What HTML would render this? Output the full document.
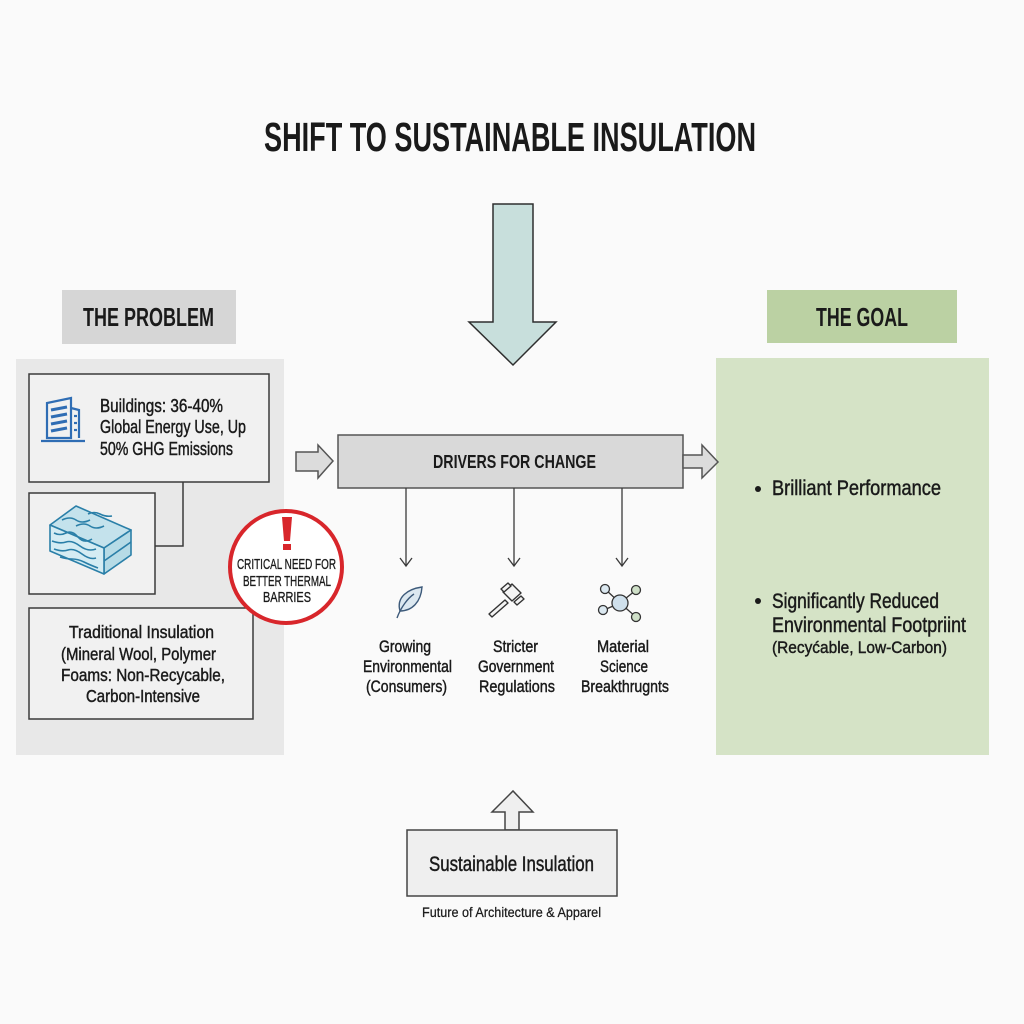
<!DOCTYPE html>
<html><head><meta charset="utf-8"><style>
html,body{margin:0;padding:0;background:#fafafa;}
svg{display:block;}
text{font-family:"Liberation Sans Narrow","Liberation Sans",sans-serif;fill:#1a1a1a;}
.b{font-weight:bold;}
.m{stroke:#1a1a1a;stroke-width:0.45;}
</style></head><body>
<svg width="1024" height="1024" viewBox="0 0 1024 1024" xmlns="http://www.w3.org/2000/svg">
<rect x="0" y="0" width="1024" height="1024" fill="#fafafa"/>

<!-- Title -->
<text x="264" y="151" font-size="41" class="b" textLength="492" lengthAdjust="spacingAndGlyphs">SHIFT TO SUSTAINABLE INSULATION</text>

<!-- Down arrow -->
<polygon points="493,204 533,204 533,322 556,322 513,365 469,322 493,322" fill="#c8dfdc" stroke="#2e2e2e" stroke-width="1.5" stroke-linejoin="miter"/>

<!-- THE PROBLEM -->
<rect x="62" y="290" width="174" height="54" fill="#d6d6d6"/>
<text x="83" y="326" font-size="26" class="b" textLength="131" lengthAdjust="spacingAndGlyphs">THE PROBLEM</text>

<rect x="16" y="359" width="268" height="396" fill="#e8e8e8"/>

<!-- box1 -->
<rect x="29" y="374" width="240" height="108" fill="#f1f1f1" stroke="#3a3a3a" stroke-width="1.5"/>
<!-- building icon -->
<g fill="none" stroke="#2f6db4" stroke-width="2.2">
  <line x1="41" y1="441" x2="85" y2="441"/>
  <polygon points="47,438 47,403 71,398 71,438"/>
  <polyline points="71,408 79,410 79,438"/>
  <line x1="51" y1="410" x2="67" y2="407" stroke-width="3"/>
  <line x1="51" y1="417" x2="67" y2="414" stroke-width="3"/>
  <line x1="51" y1="424" x2="67" y2="421" stroke-width="3"/>
  <line x1="51" y1="431" x2="67" y2="428" stroke-width="3"/>
  <line x1="74" y1="416" x2="77" y2="416"/>
  <line x1="74" y1="423" x2="77" y2="423"/>
  <line x1="74" y1="430" x2="77" y2="430"/>
</g>
<g class="m">
<text x="100" y="412" font-size="18" textLength="123" lengthAdjust="spacingAndGlyphs">Buildings: 36-40%</text>
<text x="100" y="433" font-size="18" textLength="146" lengthAdjust="spacingAndGlyphs">Global Energy Use, Up</text>
<text x="100" y="455" font-size="18" textLength="133" lengthAdjust="spacingAndGlyphs">50% GHG Emissions</text>
</g>

<!-- connector -->
<polyline points="183,482 183,546 155,546" fill="none" stroke="#3a3a3a" stroke-width="1.5"/>

<!-- box2 -->
<rect x="29" y="493" width="126" height="101" fill="#f1f1f1" stroke="#3a3a3a" stroke-width="1.5"/>
<g stroke="#2a7fa8" stroke-width="1.6" stroke-linejoin="round">
  <polygon points="50,525 76,506 131,530 104,548" fill="#c4e2ec"/>
  <polygon points="104,548 131,530 131,555 104,574" fill="#b6dbe6"/>
  <polygon points="50,525 104,548 104,574 50,551" fill="#d4ecf3"/>
  <line x1="104" y1="561" x2="131" y2="542"/>
  <path d="M62,520 q8,-4 14,0 t14,0" fill="none"/>
  <path d="M76,526 q8,-4 14,0 t14,0" fill="none"/>
  <path d="M88,514 q6,-3 12,0 t12,2" fill="none"/>
  <path d="M54,533 q6,3 12,0 t12,4 t14,2" fill="none"/>
  <path d="M52,541 q8,3 14,1 t14,4 t16,3" fill="none"/>
  <path d="M54,549 q8,3 14,1 t14,4 t14,4" fill="none"/>
  <path d="M60,557 q6,2 12,2 t12,3 t14,6" fill="none"/>
</g>

<!-- box3 -->
<rect x="29" y="608" width="224" height="111" fill="#f1f1f1" stroke="#3a3a3a" stroke-width="1.5"/>
<g class="m">
<text x="69" y="638" font-size="17.5" textLength="145" lengthAdjust="spacingAndGlyphs">Traditional Insulation</text>
<text x="61" y="660" font-size="17.5" textLength="155" lengthAdjust="spacingAndGlyphs">(Mineral Wool, Polymer</text>
<text x="61" y="681" font-size="17.5" textLength="164" lengthAdjust="spacingAndGlyphs">Foams: Non-Recycable,</text>
<text x="86" y="702" font-size="17.5" textLength="114" lengthAdjust="spacingAndGlyphs">Carbon-Intensive</text>
</g>

<!-- Red circle -->
<circle cx="286" cy="567" r="56" fill="#ffffff" stroke="#d8262b" stroke-width="4"/>
<polygon points="282,517 292,517 290,541 284,541" fill="#d8262b"/>
<rect x="283" y="544" width="8" height="6" fill="#d8262b"/>
<g class="m" style="stroke-width:0.3">
<text x="237" y="569" font-size="14.5" textLength="99" lengthAdjust="spacingAndGlyphs">CRITICAL NEED FOR</text>
<text x="243" y="586" font-size="14.5" textLength="88" lengthAdjust="spacingAndGlyphs">BETTER THERMAL</text>
<text x="263" y="602" font-size="14.5" textLength="48" lengthAdjust="spacingAndGlyphs">BARRIES</text>
</g>

<!-- left small arrow -->
<polygon points="296,452 318,452 318,445 333,461 318,478 318,471 296,471" fill="#dcdcdc" stroke="#555" stroke-width="1.5"/>

<!-- Drivers box -->
<rect x="338" y="435" width="345" height="53" fill="#d9d9d9" stroke="#555" stroke-width="1.5"/>
<text x="433" y="468" font-size="18.5" class="b" textLength="163" lengthAdjust="spacingAndGlyphs">DRIVERS FOR CHANGE</text>

<!-- driver down arrows -->
<g stroke="#3a3a3a" stroke-width="1.3" fill="none">
  <line x1="406" y1="488" x2="406" y2="566"/><polyline points="400,558 406,566 412,558"/>
  <line x1="514" y1="488" x2="514" y2="566"/><polyline points="508,558 514,566 520,558"/>
  <line x1="622" y1="488" x2="622" y2="566"/><polyline points="616,558 622,566 628,558"/>
</g>

<!-- leaf -->
<g stroke="#3d5a7a" stroke-width="1.4" fill="none">
  <path d="M400,611 C396,597 408,589 422,587 C421,602 412,611 400,611 Z" fill="#dce8f0"/>
  <path d="M397,618 C401,607 408,598 414,594"/>
</g>
<!-- gavel -->
<g stroke="#333" stroke-width="1.4" fill="#f4f4f4" stroke-linejoin="round">
  <polygon points="489,614 505,600 508,603 492,617"/>
  <polygon points="503,592 512,584 521,593 512,601"/>
  <polygon points="501,589 508,583 511,586 504,592"/>
  <polygon points="514,602 521,596 524,599 517,605"/>
</g>
<!-- molecule -->
<g stroke="#333" stroke-width="1.3">
  <line x1="620" y1="603" x2="605" y2="589"/>
  <line x1="620" y1="603" x2="636" y2="590"/>
  <line x1="620" y1="603" x2="604" y2="610"/>
  <line x1="620" y1="603" x2="636" y2="617"/>
  <circle cx="620" cy="603" r="8" fill="#cfe0ec"/>
  <circle cx="605" cy="589" r="4.5" fill="#dbe8f0"/>
  <circle cx="636" cy="590" r="4.5" fill="#cfe0c8"/>
  <circle cx="603" cy="610" r="4.5" fill="#dbe8f0"/>
  <circle cx="636" cy="617" r="4.5" fill="#cfe0c8"/>
</g>

<!-- driver labels -->
<g font-size="17" class="m">
<text x="379" y="652" textLength="52" lengthAdjust="spacingAndGlyphs">Growing</text>
<text x="363" y="672" textLength="89" lengthAdjust="spacingAndGlyphs">Environmental</text>
<text x="366" y="692" textLength="81" lengthAdjust="spacingAndGlyphs">(Consumers)</text>
<text x="493" y="652" textLength="45" lengthAdjust="spacingAndGlyphs">Stricter</text>
<text x="478" y="672" textLength="76" lengthAdjust="spacingAndGlyphs">Government</text>
<text x="479" y="692" textLength="76" lengthAdjust="spacingAndGlyphs">Regulations</text>
<text x="597" y="652" textLength="52" lengthAdjust="spacingAndGlyphs">Material</text>
<text x="600" y="672" textLength="48" lengthAdjust="spacingAndGlyphs">Science</text>
<text x="581" y="692" textLength="88" lengthAdjust="spacingAndGlyphs">Breakthrugnts</text>
</g>

<!-- THE GOAL -->
<rect x="767" y="290" width="190" height="53" fill="#bbd1a3"/>
<text x="816" y="326" font-size="26" class="b" textLength="92" lengthAdjust="spacingAndGlyphs">THE GOAL</text>
<rect x="716" y="358" width="273" height="397" fill="#d5e3c6"/>

<!-- right arrow (drawn over panel edge) -->
<polygon points="683,455 702,455 702,445 718,462 702,478 702,468 683,468" fill="#dcdcdc" stroke="#555" stroke-width="1.5"/>

<circle cx="758" cy="489" r="3" fill="#1a1a1a"/>
<g class="m">
<text x="772" y="495" font-size="21" textLength="169" lengthAdjust="spacingAndGlyphs">Brilliant Performance</text>
<text x="772" y="608" font-size="21" textLength="167" lengthAdjust="spacingAndGlyphs">Significantly Reduced</text>
<text x="772" y="632" font-size="21" textLength="194" lengthAdjust="spacingAndGlyphs">Environmental Footpriint</text>
<text x="772" y="653" font-size="17" textLength="175" lengthAdjust="spacingAndGlyphs">(Recyćable, Low-Carbon)</text>
</g>
<circle cx="758" cy="601" r="3" fill="#1a1a1a"/>

<!-- bottom up arrow + box -->
<polygon points="505,830 505,812 492,812 513,791 533,812 519,812 519,830" fill="#efefef" stroke="#444" stroke-width="1.5"/>
<rect x="407" y="830" width="210" height="66" fill="#efefef" stroke="#444" stroke-width="1.5"/>
<text x="429" y="871" font-size="21" class="m" textLength="165" lengthAdjust="spacingAndGlyphs">Sustainable Insulation</text>
<text x="422" y="917" font-size="13.5" class="m" style="stroke-width:0.25" textLength="179" lengthAdjust="spacingAndGlyphs">Future of Architecture &amp; Apparel</text>
</svg>
</body></html>
